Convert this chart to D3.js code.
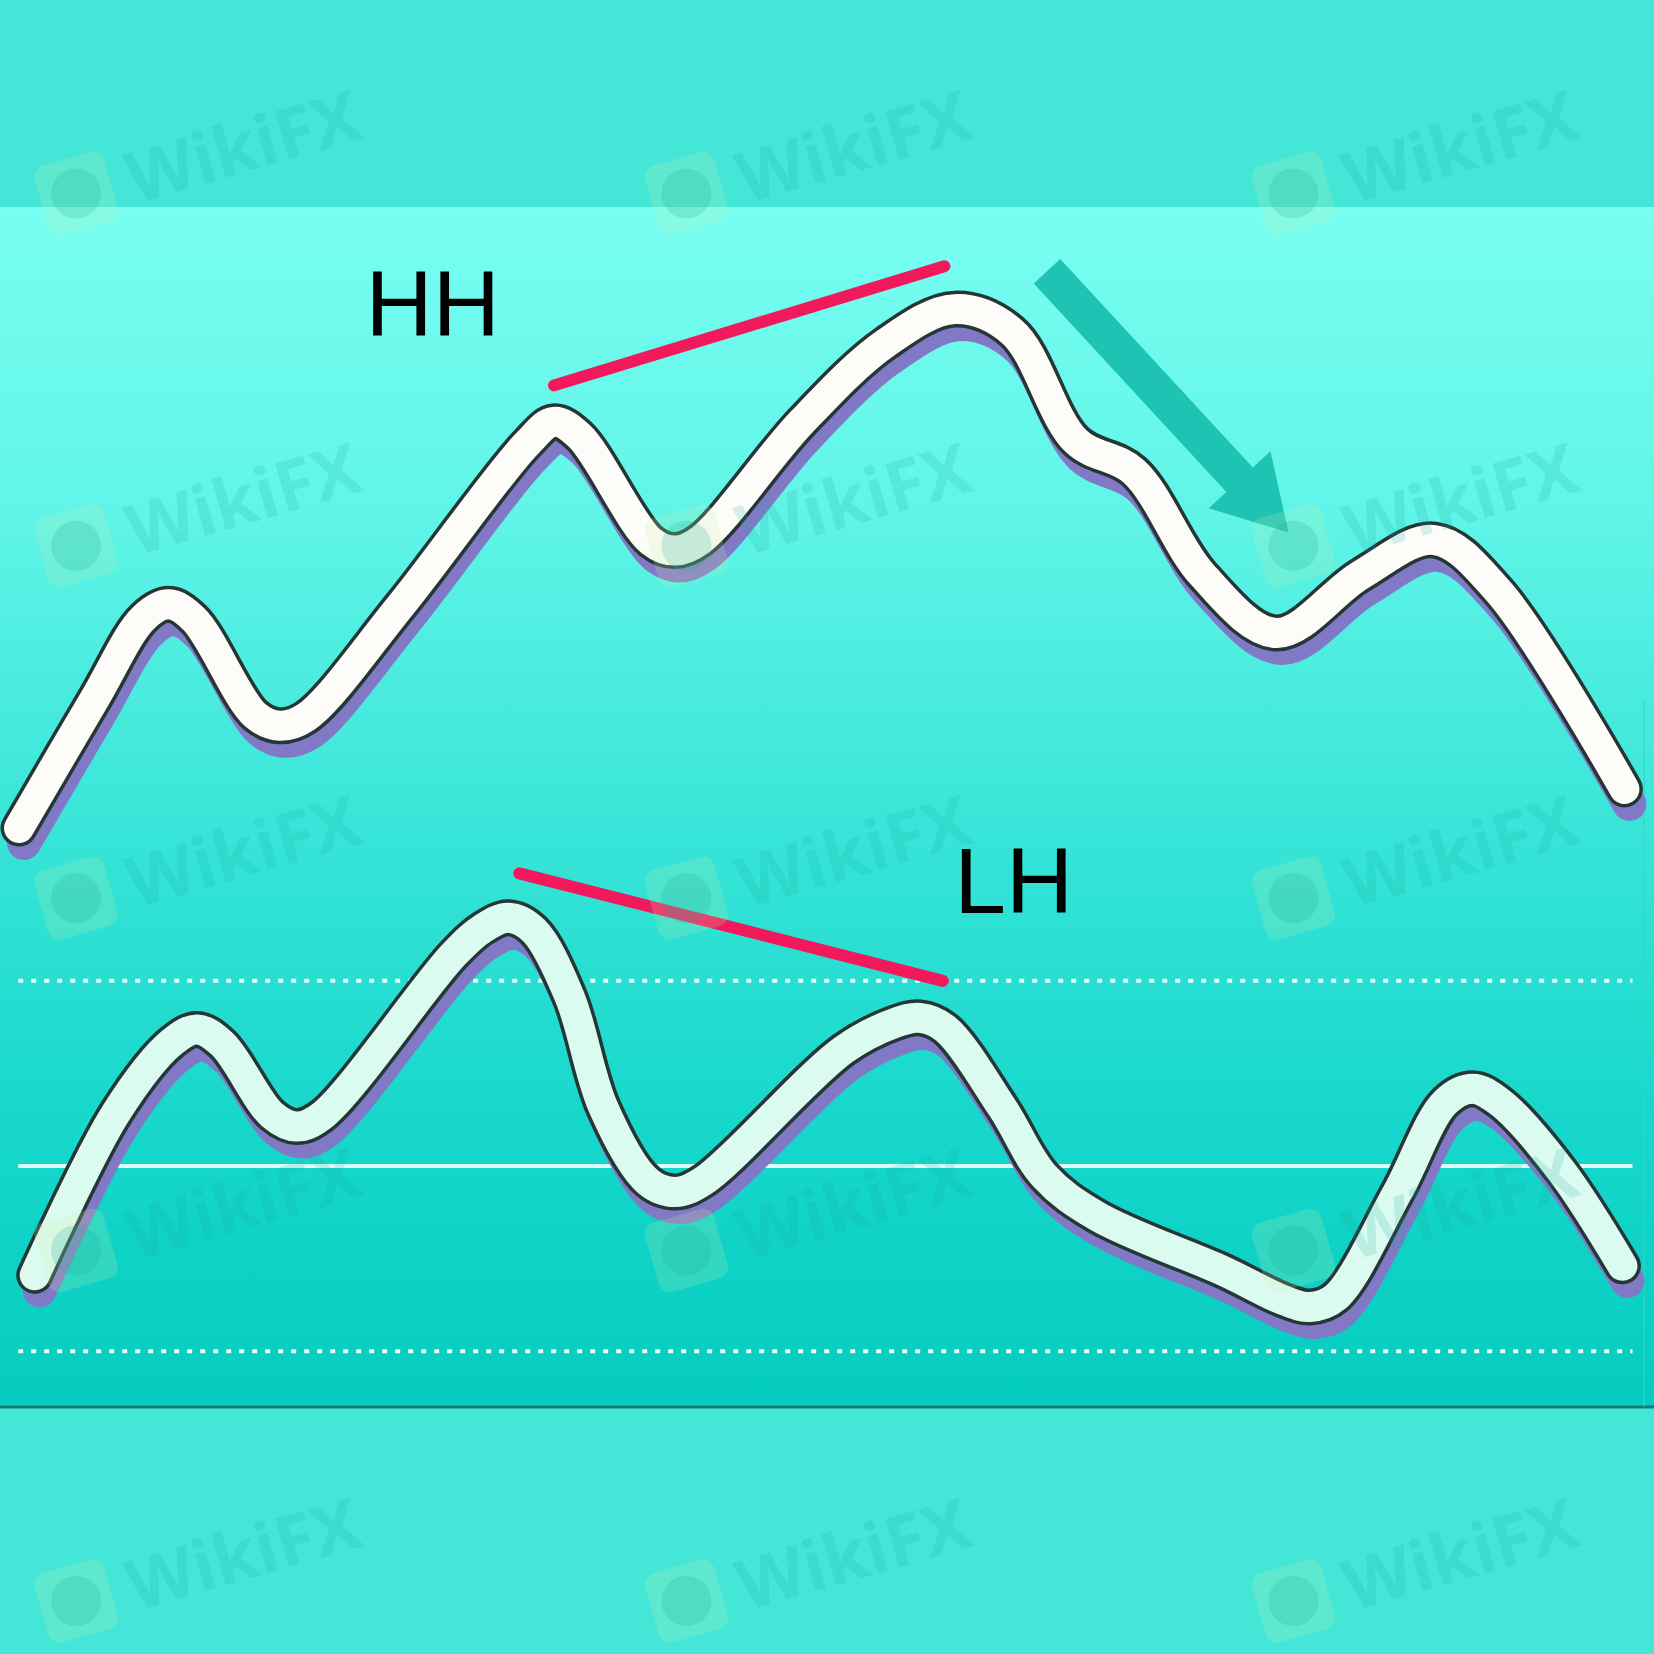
<!DOCTYPE html>
<html><head><meta charset="utf-8">
<script src="https://cdn.jsdelivr.net/npm/d3@7/dist/d3.min.js"></script>
<style>html,body{margin:0;padding:0;background:#44e6d8;}svg{display:block;}</style>
</head><body><svg id="c" width="1654" height="1654"></svg>
<script>
// ---- data (time 0..100, value 0..100) ----
const upperT = [1.15,5.74,8.67,10.20,11.73,15.43,16.90,18.49,24.23,31.89,33.48,35.01,39.35,40.82,42.35,48.47,53.57,57.72,61.22,65.05,68.56,72.70,77.17,82.27,86.73,90.56,98.21];
const upperV = [49.94,57.78,62.63,63.46,62.56,56.76,56.12,56.63,63.39,73.21,74.49,73.66,67.28,66.71,67.35,74.49,79.27,81.31,79.91,73.34,71.49,65.24,61.73,65.24,67.35,64.29,52.30];
const lowerT = [2.10,7.02,10.40,11.93,13.46,16.45,17.92,19.45,27.42,29.21,30.74,32.27,34.44,36.48,39.16,40.82,42.47,51.02,54.08,55.61,57.14,60.59,63.14,66.33,73.98,77.68,79.21,80.74,84.50,87.37,89.03,90.69,94.39,98.09];
const lowerV = [22.90,32.72,36.99,37.76,36.86,32.59,31.89,32.53,42.28,43.88,44.52,43.75,39.73,33.04,28.57,27.93,28.57,36.54,38.14,38.46,37.82,33.04,28.89,26.47,23.15,21.36,20.98,21.56,27.93,33.35,34.18,33.35,29.21,23.47];
const levelValues = [40.7, 29.5, 18.3];
const levelStyles = ["dotted", "solid", "dotted"];
const levelRange = [1.1, 98.7];
const trendLabels = ["HH", "LH"];
const trendStart = [[33.5, 76.7], [31.4, 47.2]];
const trendEnd = [[57.1, 83.9], [57.0, 40.7]];
const labelPos = [[22.1, 79.7], [57.7, 44.8]];
const arrowFrom = [63.3, 83.6];
const arrowTo = [77.9, 67.8];
const markT = [4.6, 41.5, 78.2];
const markV = [88.3, 67.0, 45.7, 24.4, 3.2];

const W = 1654, H = 1654;
const x = d3.scaleLinear().domain([0, 100]).range([0, W]);
const y = d3.scaleLinear().domain([0, 100]).range([H, 0]);
const svg = d3.select("#c");
const defs = svg.append("defs");

const panelTop = 207, panelBottom = 1407;
const g = defs.append("linearGradient").attr("id", "pg").attr("x1", 0).attr("x2", 0).attr("y1", 0).attr("y2", 1);
[[0, "#78fef1"], [0.25, "#60f5e8"], [0.5, "#3be6d9"], [0.75, "#18d8cc"], [1, "#05ccc0"]]
  .forEach(([o, c]) => g.append("stop").attr("offset", o).attr("stop-color", c));

svg.append("rect").attr("width", W).attr("height", H).attr("fill", "#44e6d8");
svg.append("rect").attr("x", 0).attr("y", panelTop).attr("width", W).attr("height", panelBottom - panelTop).attr("fill", "url(#pg)");
svg.append("line").attr("x1", 0).attr("x2", W).attr("y1", panelBottom).attr("y2", panelBottom).attr("stroke", "#117c75").attr("stroke-width", 3);
svg.append("line").attr("x1", 1644).attr("x2", 1644).attr("y1", 700).attr("y2", panelBottom).attr("stroke", "#2fd8cb").attr("stroke-width", 2).attr("opacity", 0.5);

// level lines
levelValues.forEach((v, i) => {
  svg.append("line")
    .attr("x1", x(levelRange[0])).attr("x2", x(levelRange[1]))
    .attr("y1", y(v)).attr("y2", y(v))
    .attr("stroke", levelStyles[i] === "solid" ? "#e9fffb" : "#f4fffd")
    .attr("stroke-width", 4)
    .attr("stroke-dasharray", levelStyles[i] === "solid" ? null : "5,8")
    .attr("opacity", 0.95);
});

const line = d3.line().x(d => x(d[0])).y(d => y(d[1])).curve(d3.curveCatmullRom.alpha(0.5));
function drawSeries(T, V, fill) {
  const pts = T.map((t, i) => [t, V[i]]);
  const grp = svg.append("g");
  grp.append("path").attr("d", line(pts)).attr("fill", "none").attr("stroke", "#8279c6")
    .attr("stroke-width", 34).attr("stroke-linecap", "round").attr("stroke-linejoin", "round")
    .attr("transform", "translate(5,15)");
  grp.append("path").attr("d", line(pts)).attr("fill", "none").attr("stroke", "#243636")
    .attr("stroke-width", 37).attr("stroke-linecap", "round").attr("stroke-linejoin", "round");
  grp.append("path").attr("d", line(pts)).attr("fill", "none").attr("stroke", fill)
    .attr("stroke-width", 30).attr("stroke-linecap", "round").attr("stroke-linejoin", "round");
}
drawSeries(upperT, upperV, "#fefcf9");
drawSeries(lowerT, lowerV, "#dcfbf0");

// trend lines
trendStart.forEach((s, i) => {
  svg.append("line").attr("x1", x(s[0])).attr("y1", y(s[1]))
    .attr("x2", x(trendEnd[i][0])).attr("y2", y(trendEnd[i][1]))
    .attr("stroke", "#f2185c").attr("stroke-width", 12).attr("stroke-linecap", "round");
  svg.append("text").attr("x", x(labelPos[i][0])).attr("y", y(labelPos[i][1]))
    .attr("font-family", "Liberation Sans, Arial, sans-serif").attr("font-size", 93)
    .attr("fill", "#000").text(trendLabels[i]);
});

// arrow
(function () {
  const x0 = x(arrowFrom[0]), y0 = y(arrowFrom[1]), x1 = x(arrowTo[0]), y1 = y(arrowTo[1]);
  const dx = x1 - x0, dy = y1 - y0, L = Math.hypot(dx, dy);
  const ux = dx / L, uy = dy / L, px = -uy, py = ux;
  const sw = 18, hw = 42, hl = 72;
  const bx = x1 - ux * hl, by = y1 - uy * hl;
  const pts = [
    [x0 + px * sw, y0 + py * sw], [bx + px * sw, by + py * sw], [bx + px * hw, by + py * hw],
    [x1, y1], [bx - px * hw, by - py * hw], [bx - px * sw, by - py * sw], [x0 - px * sw, y0 - py * sw]
  ];
  svg.append("path").attr("d", "M" + pts.map(p => p.join(",")).join("L") + "Z").attr("fill", "#1fc3b3");
})();

// watermarks
const wm = svg.append("g").attr("pointer-events", "none");
markV.forEach(v => markT.forEach(t => {
  const m = wm.append("g").attr("transform", `translate(${x(t)},${y(v)}) rotate(-16)`);
  m.append("rect").attr("x", -36).attr("y", -36).attr("width", 72).attr("height", 72).attr("rx", 12)
    .attr("fill", "#c9f0a8").attr("opacity", 0.2);
  m.append("circle").attr("r", 25).attr("fill", "#1aa99c").attr("opacity", 0.2);
  m.append("text").attr("x", 54).attr("y", 26).attr("font-family", "Open Sans, Lato, sans-serif")
    .attr("font-weight", 700).attr("font-size", 70).attr("fill", "#1aa99c").attr("opacity", 0.17).text("WikiFX");
}));
</script></body></html>
